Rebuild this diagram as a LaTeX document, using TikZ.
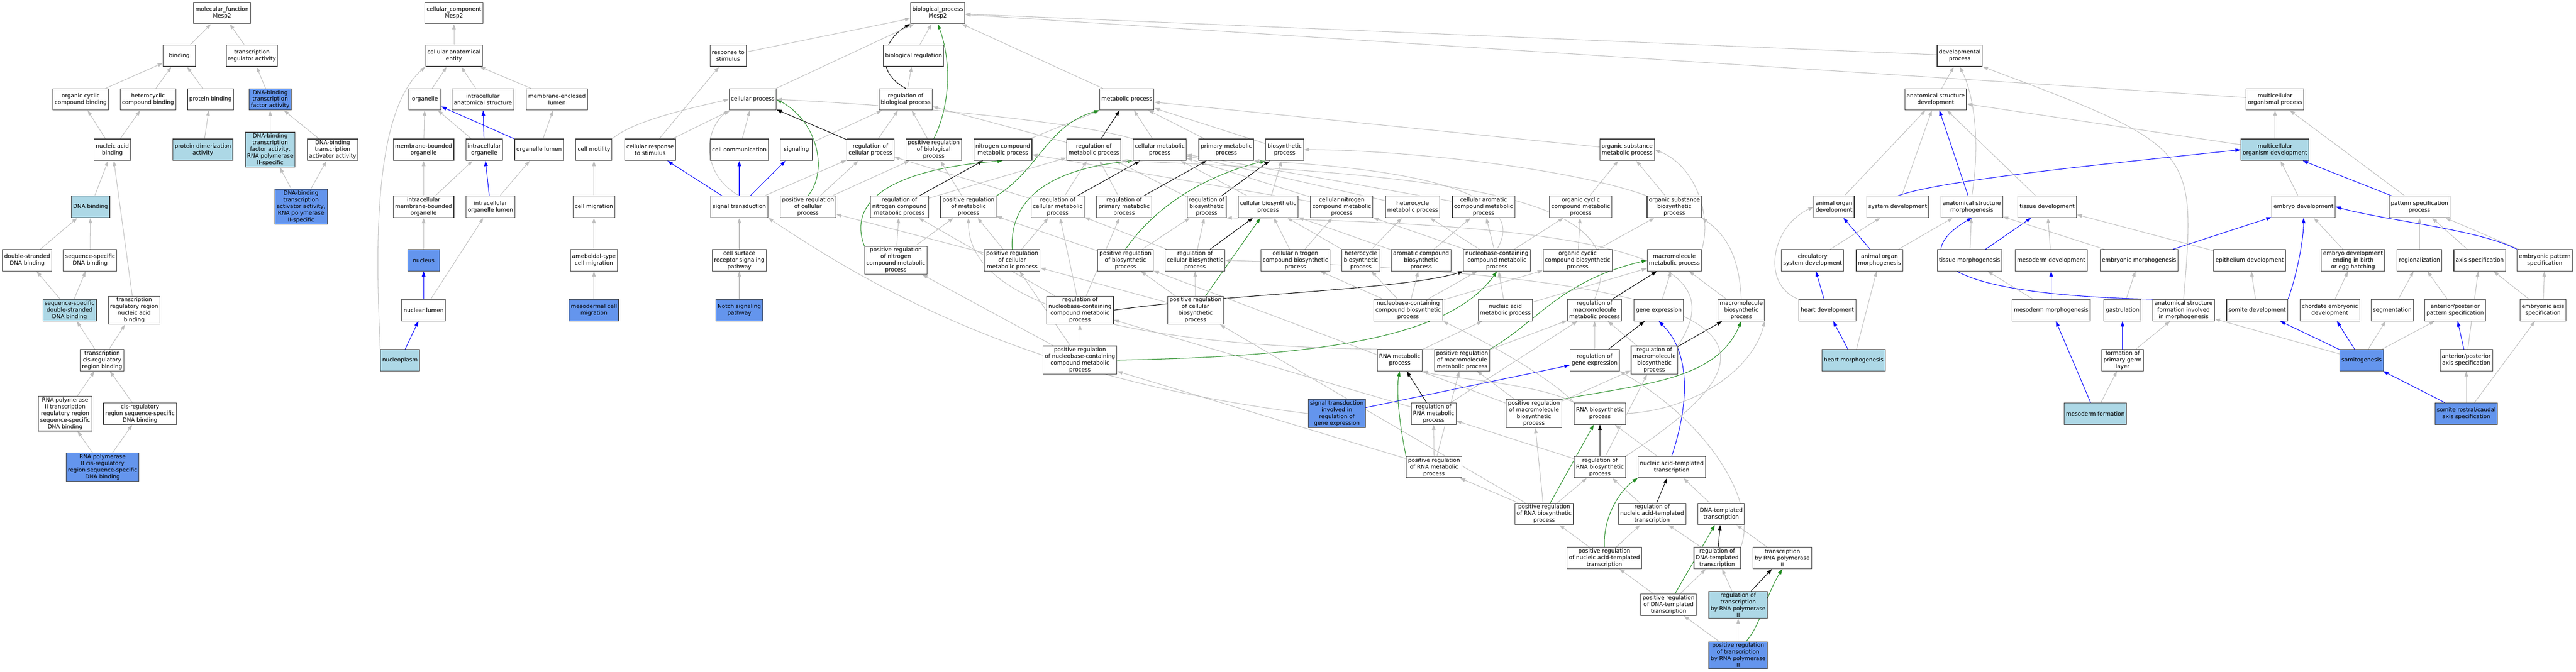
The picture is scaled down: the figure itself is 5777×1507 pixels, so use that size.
\documentclass[tikz,border=0pt]{standalone}
\usepackage{fontspec}
\setmainfont{DejaVu Sans}
\usetikzlibrary{arrows.meta}
\definecolor{dkblue}{HTML}{6495ED}
\definecolor{ltblue}{HTML}{ADD8E6}
\definecolor{edgegray}{HTML}{BEBEBE}
\definecolor{fgreen}{HTML}{228B22}
\pgfdeclarelayer{edges}
\pgfsetlayers{edges,main}

\begin{document}
\begin{tikzpicture}[x=1pt,y=-1pt,
  term/.style={draw=black!75, line width=1.3pt, fill=white, align=center,
    font=\fontsize{12.5}{15}\selectfont, inner xsep=4pt, inner ysep=3pt,
    minimum width=72pt, minimum height=48pt},
  dkterm/.style={term, fill=dkblue},
  ltterm/.style={term, fill=ltblue},
  isa/.style={draw=edgegray, line width=1.2pt, -{Triangle[length=12pt,width=8pt]}},
  partof/.style={draw=blue, line width=1.2pt, -{Triangle[length=12pt,width=8pt]}},
  regs/.style={draw=black, line width=1.2pt, -{Triangle[length=12pt,width=8pt]}},
  posregs/.style={draw=fgreen, line width=1.2pt, -{Triangle[length=12pt,width=8pt]}}]
\useasboundingbox (0,0) rectangle (5777,1507);

% molecular function
\node[term] (mf) at (498,29) {molecular\_function\\Mesp2};
\node[term] (bind) at (402,125) {binding};
\node[term] (tra) at (565,125) {transcription\\regulator activity};
\node[term] (occb) at (181,223) {organic cyclic\\compound binding};
\node[term] (hcb) at (332,223) {heterocyclic\\compound binding};
\node[term] (pb) at (472,223) {protein binding};
\node[dkterm] (dbtf) at (606,223) {DNA-binding\\transcription\\factor activity};
\node[term] (nab) at (252,336) {nucleic acid\\binding};
\node[ltterm] (pda) at (455,336) {protein dimerization\\activity};
\node[ltterm] (dbtf2) at (606,336) {DNA-binding\\transcription\\factor activity,\\RNA polymerase\\II-specific};
\node[term] (dbta) at (746,336) {DNA-binding\\transcription\\activator activity};
\node[ltterm] (dnab) at (203,464) {DNA binding};
\node[dkterm] (dbta2) at (675,464) {DNA-binding\\transcription\\activator activity,\\RNA polymerase\\II-specific};
\node[term] (dsdb) at (61,584) {double-stranded\\DNA binding};
\node[term] (ssdb) at (202,584) {sequence-specific\\DNA binding};
\node[ltterm] (ssdsdb) at (156,696) {sequence-specific\\double-stranded\\DNA binding};
\node[term] (trrnab) at (301,696) {transcription\\regulatory region\\nucleic acid\\binding};
\node[term] (tcrb) at (229,808) {transcription\\cis-regulatory\\region binding};
\node[term] (rp2trr) at (146,928) {RNA polymerase\\II transcription\\regulatory region\\sequence-specific\\DNA binding};
\node[term] (crrss) at (314,928) {cis-regulatory\\region sequence-specific\\DNA binding};
\node[dkterm] (rp2cr) at (230,1048) {RNA polymerase\\II cis-regulatory\\region sequence-specific\\DNA binding};

% cellular component
\node[term] (cc) at (1018,29) {cellular\_component\\Mesp2};
\node[term] (cae) at (1018,125) {cellular anatomical\\entity};
\node[term] (org) at (953,223) {organelle};
\node[term] (ias) at (1083,223) {intracellular\\anatomical structure};
\node[term] (mel) at (1249,223) {membrane-enclosed\\lumen};
\node[term] (mbo) at (950,336) {membrane-bounded\\organelle};
\node[term] (io) at (1086,336) {intracellular\\organelle};
\node[term] (ol) at (1209,336) {organelle lumen};
\node[term] (imbo) at (950,464) {intracellular\\membrane-bounded\\organelle};
\node[term] (iol) at (1100,464) {intracellular\\organelle lumen};
\node[dkterm] (nuc) at (950,584) {nucleus};
\node[term] (nl) at (950,696) {nuclear lumen};
\node[ltterm] (np) at (897,808) {nucleoplasm};

% biological process
\node[term] (bp) at (2103,29) {biological\_process\\Mesp2};
\node[term] (rts) at (1633,125) {response to\\stimulus};
\node[term] (breg) at (2049,125) {biological regulation};
\node[term] (devp) at (4395,125) {developmental\\process};
\node[term] (cp) at (1688,223) {cellular process};
\node[term] (rbp) at (2031,223) {regulation of\\biological process};
\node[term] (mp) at (2527,223) {metabolic process};
\node[term] (asd) at (4341,223) {anatomical structure\\development};
\node[term] (mop) at (5102,223) {multicellular\\organismal process};
\node[term] (cm) at (1332,336) {cell motility};
\node[term] (crs) at (1458,336) {cellular response\\to stimulus};
\node[term] (cc2) at (1658,336) {cell communication};
\node[term] (sig) at (1786,336) {signaling};
\node[term] (rcp) at (1952,336) {regulation of\\cellular process};
\node[term] (prbp) at (2094,336) {positive regulation\\of biological\\process};
\node[term] (ncmp) at (2249,336) {nitrogen compound\\metabolic process};
\node[term] (rmp) at (2453,336) {regulation of\\metabolic process};
\node[term] (cmp) at (2601,336) {cellular metabolic\\process};
\node[term] (pmp) at (2750,336) {primary metabolic\\process};
\node[term] (bsp) at (2881,336) {biosynthetic\\process};
\node[term] (osmp) at (3649,336) {organic substance\\metabolic process};
\node[ltterm] (mod) at (5102,336) {multicellular\\organism development};
\node[term] (cmig) at (1332,464) {cell migration};
\node[term] (st) at (1658,464) {signal transduction};
\node[term] (prcp) at (1812,464) {positive regulation\\of cellular\\process};
\node[term] (rncmp) at (2017,464) {regulation of\\nitrogen compound\\metabolic process};
\node[term] (prmp) at (2172,464) {positive regulation\\of metabolic\\process};
\node[term] (rcmp) at (2372,464) {regulation of\\cellular metabolic\\process};
\node[term] (rpmp) at (2521,464) {regulation of\\primary metabolic\\process};
\node[term] (rbsp) at (2706,464) {regulation of\\biosynthetic\\process};
\node[term] (cbsp) at (2844,464) {cellular biosynthetic\\process};
\node[term] (cncmp) at (3009,464) {cellular nitrogen\\compound metabolic\\process};
\node[term] (hmp) at (3168,464) {heterocycle\\metabolic process};
\node[term] (camp) at (3327,464) {cellular aromatic\\compound metabolic\\process};
\node[term] (occmp) at (3545,464) {organic cyclic\\compound metabolic\\process};
\node[term] (osbp) at (3755,464) {organic substance\\biosynthetic\\process};
\node[term] (aod) at (4113,464) {animal organ\\development};
\node[term] (sysd) at (4256,464) {system development};
\node[term] (asm) at (4422,464) {anatomical structure\\morphogenesis};
\node[term] (td) at (4591,464) {tissue development};
\node[term] (ed) at (5166,464) {embryo development};
\node[term] (psp) at (5426,464) {pattern specification\\process};
\node[term] (actm) at (1332,584) {ameboidal-type\\cell migration};
\node[term] (csrsp) at (1658,584) {cell surface\\receptor signaling\\pathway};
\node[term] (prncmp) at (2009,584) {positive regulation\\of nitrogen\\compound metabolic\\process};
\node[term] (prcmp) at (2270,584) {positive regulation\\of cellular\\metabolic process};
\node[term] (prbsp) at (2524,584) {positive regulation\\of biosynthetic\\process};
\node[term] (rcbsp) at (2680,584) {regulation of\\cellular biosynthetic\\process};
\node[term] (cncbp) at (2905,584) {cellular nitrogen\\compound biosynthetic\\process};
\node[term] (hbp) at (3052,584) {heterocycle\\biosynthetic\\process};
\node[term] (acbp) at (3187,584) {aromatic compound\\biosynthetic\\process};
\node[term] (nccmp) at (3357,584) {nucleobase-containing\\compound metabolic\\process};
\node[term] (occbp) at (3538,584) {organic cyclic\\compound biosynthetic\\process};
\node[term] (mmp) at (3755,584) {macromolecule\\metabolic process};
\node[term] (csd) at (4065,584) {circulatory\\system development};
\node[term] (aom) at (4215,584) {animal organ\\morphogenesis};
\node[term] (tm) at (4417,584) {tissue morphogenesis};
\node[term] (md) at (4600,584) {mesoderm development};
\node[term] (em) at (4797,584) {embryonic morphogenesis};
\node[term] (epd) at (5045,584) {epithelium development};
\node[term] (edeb) at (5277,584) {embryo development\\ending in birth\\or egg hatching};
\node[term] (reg) at (5426,584) {regionalization};
\node[term] (axs) at (5561,584) {axis specification};
\node[term] (eps) at (5707,584) {embryonic pattern\\specification};
\node[dkterm] (mcm) at (1332,696) {mesodermal cell\\migration};
\node[dkterm] (nsp) at (1658,696) {Notch signaling\\pathway};
\node[term] (rnccmp) at (2422,696) {regulation of\\nucleobase-containing\\compound metabolic\\process};
\node[term] (prcbsp) at (2681,696) {positive regulation\\of cellular\\biosynthetic\\process};
\node[term] (nccbp) at (3158,696) {nucleobase-containing\\compound biosynthetic\\process};
\node[term] (namp) at (3376,696) {nucleic acid\\metabolic process};
\node[term] (rmmp) at (3576,696) {regulation of\\macromolecule\\metabolic process};
\node[term] (ge) at (3720,696) {gene expression};
\node[term] (mbp) at (3905,696) {macromolecule\\biosynthetic\\process};
\node[term] (hd) at (4098,696) {heart development};
\node[term] (mm) at (4600,696) {mesoderm morphogenesis};
\node[term] (gas) at (4760,696) {gastrulation};
\node[term] (asfm) at (4897,696) {anatomical structure\\formation involved\\in morphogenesis};
\node[term] (sd) at (5062,696) {somite development};
\node[term] (ced) at (5225,696) {chordate embryonic\\development};
\node[term] (seg) at (5365,696) {segmentation};
\node[term] (apps) at (5506,696) {anterior/posterior\\pattern specification};
\node[term] (eas) at (5703,696) {embryonic axis\\specification};
\node[term] (prnccmp) at (2422,808) {positive regulation\\of nucleobase-containing\\compound metabolic\\process};
\node[term] (rnamp) at (3139,808) {RNA metabolic\\process};
\node[term] (prmmp) at (3279,808) {positive regulation\\of macromolecule\\metabolic process};
\node[term] (rge) at (3576,808) {regulation of\\gene expression};
\node[term] (rmbp) at (3710,808) {regulation of\\macromolecule\\biosynthetic\\process};
\node[ltterm] (hm) at (4157,808) {heart morphogenesis};
\node[term] (fpgl) at (4760,808) {formation of\\primary germ\\layer};
\node[dkterm] (somg) at (5296,808) {somitogenesis};
\node[term] (apas) at (5531,808) {anterior/posterior\\axis specification};
\node[dkterm] (stirge) at (2998,928) {signal transduction\\involved in\\regulation of\\gene expression};
\node[term] (rrnamp) at (3215,928) {regulation of\\RNA metabolic\\process};
\node[term] (prmbp) at (3440,928) {positive regulation\\of macromolecule\\biosynthetic\\process};
\node[term] (rnabp) at (3588,928) {RNA biosynthetic\\process};
\node[ltterm] (mf2) at (4699,928) {mesoderm formation};
\node[dkterm] (srcas) at (5531,928) {somite rostral/caudal\\axis specification};
\node[term] (prrnamp) at (3216,1048) {positive regulation\\of RNA metabolic\\process};
\node[term] (rrnabp) at (3588,1048) {regulation of\\RNA biosynthetic\\process};
\node[term] (natt) at (3749,1048) {nucleic acid-templated\\transcription};
\node[term] (prrnabp) at (3463,1153) {positive regulation\\of RNA biosynthetic\\process};
\node[term] (rnatt) at (3705,1153) {regulation of\\nucleic acid-templated\\transcription};
\node[term] (dtt) at (3860,1153) {DNA-templated\\transcription};
\node[term] (prnatt) at (3598,1252) {positive regulation\\of nucleic acid-templated\\transcription};
\node[term] (rdtt) at (3851,1252) {regulation of\\DNA-templated\\transcription};
\node[term] (trp2) at (3997,1252) {transcription\\by RNA polymerase\\II};
\node[term] (prdtt) at (3742,1357) {positive regulation\\of DNA-templated\\transcription};
\node[ltterm] (rtrp2) at (3898,1357) {regulation of\\transcription\\by RNA polymerase\\II};
\node[dkterm] (prtrp2) at (3898,1470) {positive regulation\\of transcription\\by RNA polymerase\\II};

\begin{pgfonlayer}{edges}
% molecular function edges
\draw[isa] (bind) -- (mf);
\draw[isa] (tra) -- (mf);
\draw[isa] (occb) -- (bind);
\draw[isa] (hcb) -- (bind);
\draw[isa] (pb) -- (bind);
\draw[isa] (dbtf) -- (tra);
\draw[isa] (nab) -- (occb);
\draw[isa] (nab) -- (hcb);
\draw[isa] (pda) -- (pb);
\draw[isa] (dbtf2) -- (dbtf);
\draw[isa] (dbta) -- (dbtf);
\draw[isa] (dbta2) -- (dbtf2);
\draw[isa] (dbta2) -- (dbta);
\draw[isa] (dnab) -- (nab);
\draw[isa] (trrnab) -- (nab);
\draw[isa] (dsdb) -- (dnab);
\draw[isa] (ssdb) -- (dnab);
\draw[isa] (ssdsdb) -- (dsdb);
\draw[isa] (ssdsdb) -- (ssdb);
\draw[isa] (tcrb) -- (ssdsdb);
\draw[isa] (tcrb) -- (trrnab);
\draw[isa] (rp2trr) -- (tcrb);
\draw[isa] (crrss) -- (tcrb);
\draw[isa] (rp2cr) -- (rp2trr);
\draw[isa] (rp2cr) -- (crrss);

% cellular component edges
\draw[isa] (cae) -- (cc);
\draw[isa] (org) -- (cae);
\draw[isa] (ias) -- (cae);
\draw[isa] (mel) -- (cae);
\draw[isa] (mbo) -- (org);
\draw[isa] (io) -- (org);
\draw[partof] (io) -- (ias);
\draw[partof] (ol) -- (org);
\draw[isa] (ol) -- (mel);
\draw[isa] (imbo) -- (mbo);
\draw[isa] (imbo) -- (io);
\draw[partof] (iol) -- (io);
\draw[isa] (iol) -- (ol);
\draw[isa] (nuc) -- (imbo);
\draw[partof] (nl) -- (nuc);
\draw[isa] (nl) -- (iol);
\draw[partof] (np) -- (nl);
\draw[isa] (np.north west) .. controls (845,600) and (830,260) .. (cae.south west);

% biological process edges
\draw[isa] (breg) -- (bp);
\draw[isa] (rbp) -- (breg);
\draw[regs] (rbp.north) .. controls (1960,160) and (1980,90) .. (bp.south west);
\draw[isa] (cp) -- (bp);
\draw[isa] (rts) -- (bp);
\draw[isa] (mp) -- (bp);
\draw[isa] (devp) -- (bp);
\draw[isa] (mop) -- (bp);
\draw[posregs] (prbp.north) .. controls (2130,240) and (2135,140) .. (bp.south);
\draw[isa] (crs) -- (rts);
\draw[isa] (crs) -- (cp);
\draw[isa] (cm.north east) .. controls (1420,270) and (1560,240) .. (cp.west);
\draw[isa] (cc2) -- (cp);
\draw[isa] (sig) -- (rbp);
\draw[isa] (rcp) -- (rbp);
\draw[regs] (rcp) -- (cp);
\draw[isa] (prbp) -- (rbp);
\draw[isa] (cmig) -- (cm);
\draw[isa] (actm) -- (cmig);
\draw[isa] (mcm) -- (actm);
\draw[partof] (st) -- (crs);
\draw[partof] (st) -- (cc2);
\draw[partof] (st) -- (sig);
\draw[isa] (st.north) .. controls (1570,390) and (1580,290) .. (cp.south west);
\draw[isa] (st) -- (rcp);
\draw[isa] (csrsp) -- (st);
\draw[isa] (nsp) -- (csrsp);
\draw[posregs] (prcp.north) .. controls (1860,380) and (1830,270) .. (cp.east);
\draw[isa] (prcp) -- (rcp);
\draw[isa] (prcp) -- (prbp);
\draw[isa] (stirge.west) .. controls (2300,850) and (1950,640) .. (st.south east);
\draw[partof] (stirge) -- (rge);

% metabolic edges
\draw[isa] (ncmp) -- (mp);
\draw[isa] (cmp) -- (mp);
\draw[isa] (pmp) -- (mp);
\draw[isa] (bsp) -- (mp);
\draw[isa] (osmp) -- (mp);
\draw[regs] (rmp) -- (mp);
\draw[posregs] (prmp.north east) .. controls (2330,380) and (2350,280) .. (mp.south west);
\draw[isa] (cmp.north west) .. controls (2400,270) and (2000,235) .. (cp.east);
\draw[isa] (rmp) -- (rbp);
\draw[isa] (prmp) -- (prbp);
\draw[regs] (rncmp) -- (ncmp);
\draw[isa] (rncmp) -- (rmp);
\draw[posregs] (prncmp.north west) .. controls (1900,450) and (2000,380) .. (ncmp.south);
\draw[isa] (prncmp) -- (rncmp);
\draw[isa] (prncmp) -- (prmp);
\draw[isa] (rcmp) -- (rcp);
\draw[isa] (rcmp) -- (rmp);
\draw[regs] (rcmp) -- (cmp);
\draw[isa] (rpmp) -- (rmp);
\draw[regs] (rpmp) -- (pmp);
\draw[isa] (rbsp) -- (rmp);
\draw[regs] (rbsp) -- (bsp);
\draw[isa] (cbsp) -- (bsp);
\draw[isa] (cbsp) -- (cmp);
\draw[posregs] (prcmp.north) .. controls (2262,420) and (2400,375) .. (cmp.south west);
\draw[isa] (prcmp) -- (prmp);
\draw[isa] (prcmp) -- (rcmp);
\draw[isa] (prcmp) -- (prcp);
\draw[posregs] (prbsp.north) .. controls (2600,450) and (2720,390) .. (bsp.south west);
\draw[isa] (prbsp) -- (rbsp);
\draw[isa] (prbsp) -- (prmp);
\draw[regs] (rcbsp) -- (cbsp);
\draw[isa] (rcbsp) -- (rbsp);
\draw[isa] (rcbsp) -- (rcmp);
\draw[isa] (cncmp) -- (cmp);
\draw[isa] (cncmp) -- (ncmp);
\draw[isa] (hmp) -- (cmp);
\draw[isa] (camp) -- (cmp);
\draw[isa] (occmp) -- (osmp);
\draw[isa] (osbp) -- (osmp);
\draw[isa] (osbp.north west) .. controls (3500,370) and (3100,335) .. (bsp.east);
\draw[isa] (cncbp) -- (cncmp);
\draw[isa] (cncbp) -- (cbsp);
\draw[isa] (hbp) -- (hmp);
\draw[isa] (hbp) -- (cbsp);
\draw[isa] (acbp) -- (camp);
\draw[isa] (acbp) -- (cbsp);
\draw[isa] (nccmp) -- (cncmp);
\draw[isa] (nccmp) -- (hmp);
\draw[isa] (nccmp) -- (camp);
\draw[isa] (nccmp) -- (occmp);
\draw[isa] (nccmp.north) .. controls (3430,440) and (3200,380) .. (pmp.south east);
\draw[isa] (occbp) -- (occmp);
\draw[isa] (occbp) -- (osbp);
\draw[isa] (mmp.north east) .. controls (3840,480) and (3800,370) .. (osmp.east);
\draw[regs] (rnccmp.east) .. controls (2750,660) and (3150,650) .. (nccmp.south west);
\draw[isa] (rnccmp) -- (rncmp);
\draw[isa] (rnccmp) -- (rcmp);
\draw[isa] (rnccmp) -- (rpmp);
\draw[posregs] (prcbsp) -- (cbsp);
\draw[isa] (prcbsp) -- (rcbsp);
\draw[isa] (prcbsp) -- (prbsp);
\draw[isa] (prcbsp) -- (prcmp);
\draw[isa] (nccbp) -- (nccmp);
\draw[isa] (nccbp) -- (cncbp);
\draw[isa] (nccbp) -- (hbp);
\draw[isa] (nccbp) -- (acbp);
\draw[isa] (nccbp) -- (occbp);
\draw[isa] (namp) -- (nccmp);
\draw[isa] (namp) -- (mmp);
\draw[regs] (rmmp) -- (mmp);
\draw[isa] (rmmp.north) .. controls (3660,470) and (3400,395) .. (rmp.south east);
\draw[isa] (ge) -- (mmp);
\draw[isa] (mbp) -- (mmp);
\draw[isa] (mbp.north) .. controls (3900,560) and (3860,520) .. (osbp.south east);
\draw[posregs] (prnccmp.east) .. controls (2950,800) and (3250,760) .. (nccmp.south);
\draw[isa] (prnccmp) -- (rnccmp);
\draw[isa] (prnccmp) -- (prcmp);
\draw[isa] (prnccmp) -- (prncmp);
\draw[isa] (rnamp) -- (namp);
\draw[posregs] (prmmp.north east) .. controls (3450,720) and (3500,630) .. (mmp.west);
\draw[isa] (prmmp) -- (rmmp);
\draw[isa] (prmmp.north west) .. controls (2600,790) and (2170,700) .. (prmp.south);
\draw[isa] (rge) -- (rmmp);
\draw[regs] (rge) -- (ge);
\draw[regs] (rmbp) -- (mbp);
\draw[isa] (rmbp) -- (rmmp);
\draw[isa] (rmbp.north east) .. controls (3880,600) and (3700,505) .. (rbsp.south east);
\draw[regs] (rrnamp) -- (rnamp);
\draw[isa] (rrnamp) -- (rnccmp);
\draw[isa] (rrnamp) -- (rmmp);
\draw[posregs] (prmbp.north east) .. controls (3700,860) and (3850,850) .. (mbp.south);
\draw[isa] (prmbp) -- (rmbp);
\draw[isa] (prmbp) -- (prmmp);
\draw[isa] (prmbp) -- (prbsp);
\draw[isa] (rnabp.north west) .. controls (3450,860) and (3250,850) .. (rnamp.south east);
\draw[isa] (rnabp.north west) .. controls (3480,850) and (3340,770) .. (nccbp.south east);
\draw[isa] (rnabp.east) .. controls (3800,920) and (3930,830) .. (mbp.south east);
\draw[posregs] (prrnamp.north west) .. controls (3140,960) and (3130,880) .. (rnamp.south);
\draw[isa] (prrnamp) -- (rrnamp);
\draw[isa] (prrnamp) -- (prmmp);
\draw[isa] (prrnamp) -- (prnccmp);
\draw[regs] (rrnabp) -- (rnabp);
\draw[isa] (rrnabp) -- (rrnamp);
\draw[isa] (rrnabp) -- (rmbp);
\draw[isa] (rrnabp.north east) .. controls (4020,780) and (4000,625) .. (rcbsp.east);
\draw[isa] (natt) -- (rnabp);
\draw[partof] (natt.north) .. controls (3790,900) and (3790,790) .. (ge.south);
\draw[posregs] (prrnabp) -- (rnabp);
\draw[isa] (prrnabp) -- (rrnabp);
\draw[isa] (prrnabp) -- (prrnamp);
\draw[isa] (prrnabp) -- (prmbp);
\draw[isa] (prrnabp) -- (prcbsp);
\draw[regs] (rnatt) -- (natt);
\draw[isa] (rnatt) -- (rrnabp);
\draw[isa] (dtt) -- (natt);
\draw[posregs] (prnatt.north) .. controls (3595,1150) and (3640,1095) .. (natt.south west);
\draw[isa] (prnatt) -- (rnatt);
\draw[isa] (prnatt) -- (prrnabp);
\draw[regs] (rdtt) -- (dtt);
\draw[isa] (rdtt) -- (rnatt);
\draw[isa] (rdtt.north east) .. controls (3940,1140) and (3850,960) .. (rge.south east);
\draw[isa] (trp2) -- (dtt);
\draw[posregs] (prdtt) -- (dtt);
\draw[isa] (prdtt) -- (rdtt);
\draw[isa] (prdtt) -- (prnatt);
\draw[regs] (rtrp2) -- (trp2);
\draw[isa] (rtrp2) -- (rdtt);
\draw[isa] (prtrp2) -- (rtrp2);
\draw[isa] (prtrp2) -- (prdtt);
\draw[posregs] (prtrp2.60) .. controls (3950,1400) and (3958,1340) .. (trp2.south);

% development edges
\draw[isa] (asd) -- (devp);
\draw[isa] (asm.north) .. controls (4440,330) and (4430,220) .. (devp.south);
\draw[isa] (asfm.north) .. controls (4925,330) .. (devp.south east);
\draw[isa] (mod) -- (mop);
\draw[isa] (mod) -- (asd);
\draw[isa] (psp) -- (mop);
\draw[partof] (psp) -- (mod);
\draw[isa] (ed) -- (mod);
\draw[partof] (sysd.north) .. controls (4350,405) and (4700,370) .. (mod.west);
\draw[isa] (aod) -- (asd);
\draw[isa] (sysd) -- (asd);
\draw[partof] (asm) -- (asd);
\draw[isa] (td) -- (asd);
\draw[isa] (csd) -- (sysd);
\draw[partof] (aom) -- (aod);
\draw[isa] (aom) -- (asm);
\draw[isa] (tm) -- (asm);
\draw[partof] (tm) -- (td);
\draw[isa] (md) -- (td);
\draw[isa] (em) -- (asm);
\draw[partof] (em) -- (ed);
\draw[isa] (epd) -- (td);
\draw[isa] (edeb) -- (ed);
\draw[isa] (reg) -- (psp);
\draw[isa] (axs) -- (psp);
\draw[isa] (eps) -- (psp);
\draw[partof] (eps.north west) .. controls (5560,515) and (5350,495) .. (ed.east);
\draw[partof] (hd) -- (csd);
\draw[isa] (hd.north west) .. controls (3950,640) and (3970,510) .. (aod.west);
\draw[partof] (mm) -- (md);
\draw[isa] (mm) -- (tm);
\draw[isa] (gas) -- (em);
\draw[partof] (asfm.north west) .. controls (4300,660) and (4300,560) .. (asm.south);
\draw[partof] (sd.north east) .. controls (5150,620) and (5166,540) .. (ed.south);
\draw[isa] (sd) -- (epd);
\draw[isa] (ced) -- (edeb);
\draw[isa] (seg) -- (reg);
\draw[isa] (apps) -- (reg);
\draw[isa] (eas) -- (axs);
\draw[isa] (eas) -- (eps);
\draw[partof] (hm) -- (hd);
\draw[isa] (hm) -- (aom);
\draw[partof] (fpgl) -- (gas);
\draw[isa] (fpgl) -- (asfm);
\draw[partof] (somg) -- (sd);
\draw[partof] (somg) -- (ced);
\draw[isa] (somg) -- (seg);
\draw[isa] (somg) -- (apps);
\draw[isa] (somg) -- (asfm);
\draw[partof] (apas) -- (apps);
\draw[isa] (apas) -- (axs);
\draw[isa] (mf2) -- (fpgl);
\draw[partof] (mf2) -- (mm);
\draw[partof] (srcas) -- (somg);
\draw[isa] (srcas) -- (apas);
\draw[isa] (srcas) -- (eas);
\end{pgfonlayer}
\end{tikzpicture}
\end{document}
